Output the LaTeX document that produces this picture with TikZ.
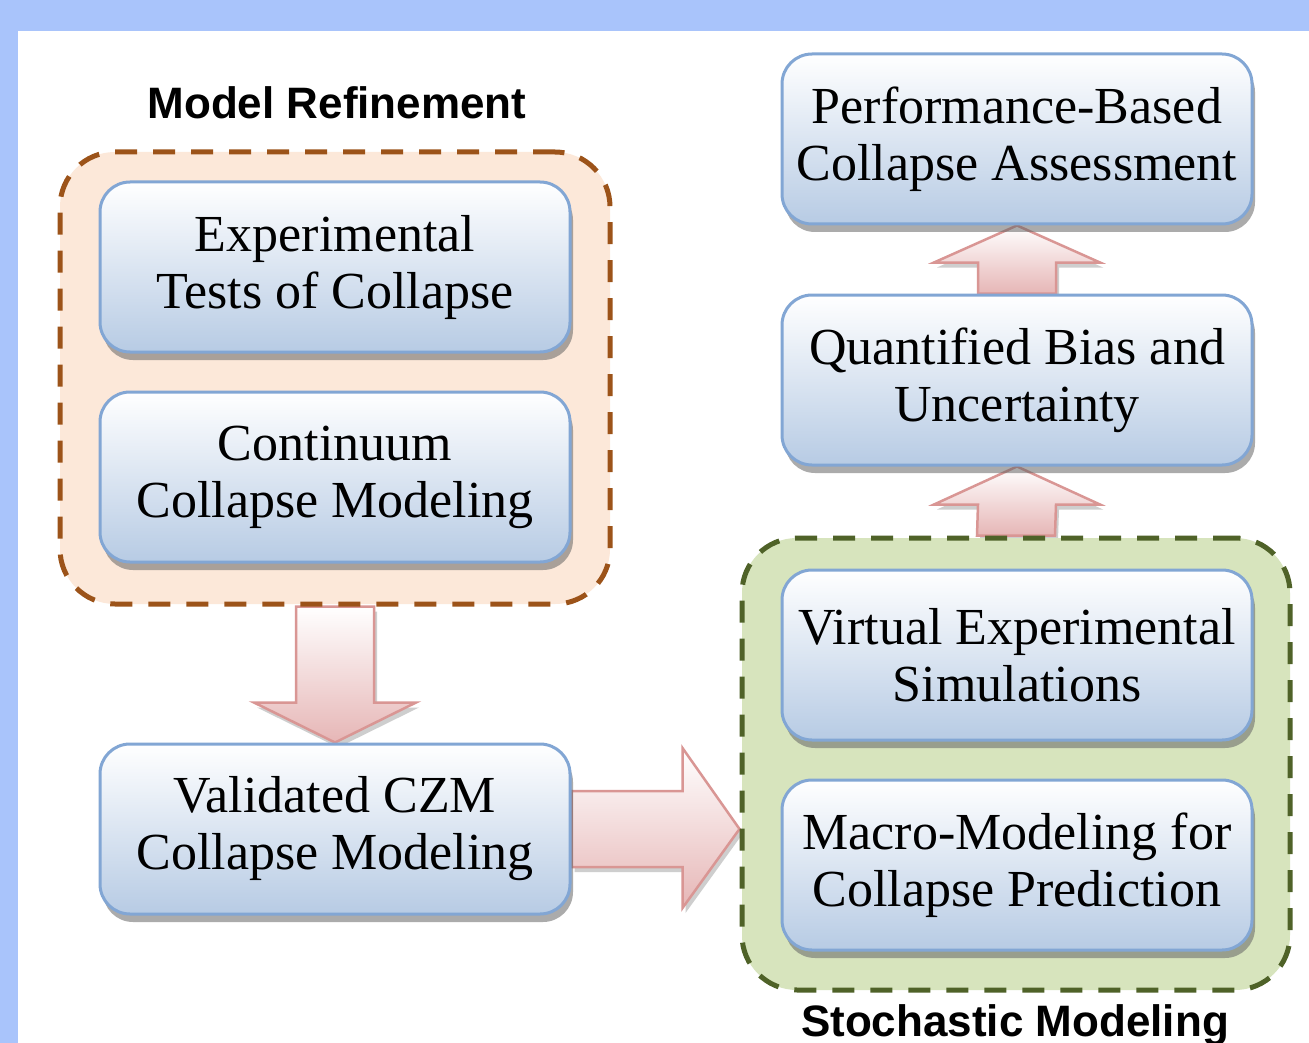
\documentclass[tikz,border=0pt]{standalone}
\usepackage{fontspec}
\setmainfont{Liberation Serif}
\newfontfamily\headfont{Liberation Sans}
\usetikzlibrary{shadows,calc}

\definecolor{pageblue}{HTML}{A9C4FB}
\definecolor{boxline}{HTML}{82A6D4}
\definecolor{boxbottom}{HTML}{B7CBE4}
\definecolor{refinefill}{HTML}{FCE8D9}
\definecolor{refinedash}{HTML}{9C5319}
\definecolor{stochfill}{HTML}{D7E4BD}
\definecolor{stochdash}{HTML}{4F6228}
\definecolor{arrowline}{HTML}{D99694}
\definecolor{arrowpink}{HTML}{E6B6B6}

\pgfdeclarelayer{pagelayer}
\pgfdeclarelayer{arrowlayer}
\pgfsetlayers{pagelayer,arrowlayer,main}

\begin{document}
\begin{tikzpicture}[x=1pt,y=-1pt,
  stepbox/.style={draw=boxline, line width=3pt, rounded corners=30pt,
    top color=white, bottom color=boxbottom,
    minimum width=470pt, minimum height=170pt, inner sep=0pt,
    align=center, font=\fontsize{52}{57}\selectfont,
    drop shadow={shadow xshift=3pt, shadow yshift=-8pt, fill=black!60, opacity=0.55}},
  groupbox/.style={line width=5pt, dash pattern=on 22pt off 16pt,
    rounded corners=55pt, inner sep=0pt},
  grouptitle/.style={font=\headfont\bfseries\fontsize{44}{50}\selectfont, inner sep=0pt},
  blockarrow/.style={draw=arrowline, line width=2.5pt, line join=miter,
    top color=white, bottom color=arrowpink,
    drop shadow={shadow xshift=3pt, shadow yshift=-5pt, fill=black!55, opacity=0.35}}]

\useasboundingbox (0,0) rectangle (1309,1043);

% page frame
\begin{pgfonlayer}{pagelayer}
  \fill[pageblue] (0,0) rectangle (1309,1043);
  \fill[white] (18,31) rectangle (1309,1043);
\end{pgfonlayer}

% dashed groups
\node[groupbox, draw=refinedash, fill=refinefill,
  minimum width=550pt, minimum height=452pt] (refine) at (335,378) {};
\node[groupbox, draw=stochdash, fill=stochfill,
  minimum width=548pt, minimum height=452pt] (stoch) at (1016,764) {};

% group titles
\node[grouptitle, anchor=base] (refinetitle) at (337,119) {Model Refinement};
\node[grouptitle, anchor=base] (stochtitle) at (1015,1036) {Stochastic Modeling};

% process boxes
\node[stepbox] (exp)   at (335,267) {Experimental\\Tests of Collapse};
\node[stepbox] (cont)  at (335,477) {Continuum\\Collapse Modeling};
\node[stepbox] (czm)   at (335,829) {Validated CZM\\Collapse Modeling};
\node[stepbox] (perf)  at (1017,139) {Performance-Based\\Collapse Assessment};
\node[stepbox] (quant) at (1017,380) {Quantified Bias and\\Uncertainty};
\node[stepbox] (virt)  at (1017,655) {Virtual Experimental\\Simulations};
\node[stepbox] (macro) at (1017,865) {Macro-Modeling for\\Collapse Prediction};

\coordinate (rtip) at (stoch.west |- czm.east);

% block arrows
\begin{pgfonlayer}{arrowlayer}
  \path[blockarrow]
    ($(refine.south)+(-39,0)$) -- ($(czm.north)+(-39,-40)$) -- ($(czm.north)+(-81,-40)$)
    -- (czm.north) -- ($(czm.north)+(81,-40)$) -- ($(czm.north)+(39,-40)$)
    -- ($(refine.south)+(39,0)$) -- cycle;
  \path[blockarrow]
    ($(czm.east)+(0,-38)$) -- ($(rtip)+(-57,-38)$) -- ($(rtip)+(-57,-81)$)
    -- (rtip) -- ($(rtip)+(-57,79)$) -- ($(rtip)+(-57,38)$)
    -- ($(czm.east)+(0,38)$) -- cycle;
  \path[blockarrow]
    ($(stoch.north)+(-39,0)$) -- ($(quant.south)+(-39,38)$) -- ($(quant.south)+(-83,38)$)
    -- (quant.south) -- ($(quant.south)+(83,38)$) -- ($(quant.south)+(39,38)$)
    -- ($(stoch.north)+(39,0)$) -- cycle;
  \path[blockarrow]
    ($(quant.north)+(-39,0)$) -- ($(perf.south)+(-39,37)$) -- ($(perf.south)+(-83,37)$)
    -- (perf.south) -- ($(perf.south)+(83,37)$) -- ($(perf.south)+(39,37)$)
    -- ($(quant.north)+(39,0)$) -- cycle;
\end{pgfonlayer}

\end{tikzpicture}
\end{document}
